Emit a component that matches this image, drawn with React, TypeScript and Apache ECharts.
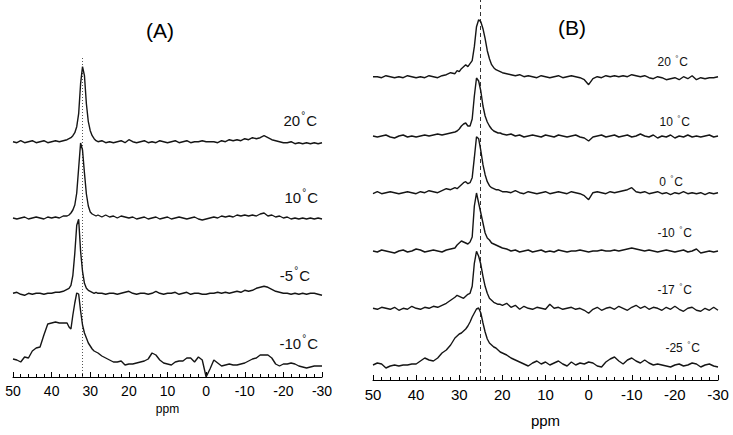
import React, { useEffect, useRef } from 'react';
import * as echarts from 'echarts';

// chemical shift grids (ppm)
const ppmA = [
  50, 49, 48, 47, 46, 45, 44, 43, 42, 41, 40, 39, 38, 37, 36,
  35.5, 35, 34.5, 34, 33.5, 33, 32.5, 32, 31.5, 31, 30.5, 30, 29.5, 29, 28.5, 28,
  27, 26, 25, 24, 23, 22, 21, 20, 19, 18,
  17, 16, 15, 14, 13, 12, 11, 10, 9, 8,
  7, 6, 5, 4, 3, 2, 1, 0, -1, -2,
  -3, -4, -5, -6, -7, -8, -9, -10, -11, -12,
  -13, -14, -15, -16, -17, -18, -19, -20, -21, -22,
  -23, -24, -25, -26, -27, -28, -29, -30,
];
const ppmB = [
  50, 49, 48, 47, 46, 45, 44, 43, 42, 41,
  40, 39, 38, 37, 36, 35, 34, 33, 32, 31,
  30.5, 30, 29.5, 29, 28.5, 28, 27.5, 27, 26.5, 26, 25.5, 25, 24.5, 24, 23.5, 23, 22.5, 22, 21.5, 21, 20.5, 20,
  19, 18, 17, 16, 15, 14, 13, 12, 11, 10,
  9, 8, 7, 6, 5, 4, 3, 2, 1, 0,
  -1, -2, -3, -4, -5, -6, -7, -8, -9, -10,
  -11, -12, -13, -14, -15, -16, -17, -18, -19, -20,
  -21, -22, -23, -24, -25, -26, -27, -28, -29, -30,
];

// Panel A spectra (intensity above own baseline)
const specA20 = [
  0, -1, 1, -1, 0, 1, -1, 0, 1, -1, 0, 1, 0, 1, 2,
  3, 4, 6, 9, 15, 28, 58, 75, 66, 38, 20, 11, 6, 3, 1, 0,
  1, -1, 0, -1, 0, 1, -1, 2, 0, -1,
  0, 1, -1, 0, -1, 1, 0, -1, 0, 1,
  -1, 0, 1, -1, 0, 0, 1, 0, 0, 0,
  -1, 1, 0, 2, 1, 2, 1, 3, 2, 4,
  3, 4, 6, 4, 2, 1, 0, -1, -1, 0,
  -2, -1, -2, -1, -2, -1, -2, -1,
];
const specA10 = [
  0, -1, 0, 1, -1, 0, 1, 0, -1, 1, 0, 1, 0, 2, 2,
  3, 5, 8, 13, 25, 50, 75, 68, 45, 24, 12, 6, 4, 3, 2, 3,
  1, 3, 1, 2, 0, 2, 1, 0, 1, -1,
  0, 1, -1, 0, 1, -1, 0, 1, -1, 0,
  1, 0, -1, 0, 1, -1, -2, -1, 0, 1,
  0, 2, 1, 2, 1, 3, 2, 3, 2, 3,
  2, 4, 5, 2, 3, 1, 2, 0, 1, -1,
  0, -1, 0, -1, 0, -1, 0, -1,
];
const specAm5 = [
  0, 1, -1, -2, 0, -1, 0, 0, -1, 0, 0, 1, 1, 2, 4,
  5, 8, 18, 40, 68, 74, 42, 22, 10, 5, 3, 2, 1, 0, 1, 0,
  0, -1, 0, 0, -1, 0, 1, 2, 0, -1,
  0, 0, -1, 0, 2, 0, -1, 0, 0, 1,
  -1, 0, 1, -1, 0, 0, -1, -1, 0, 0,
  1, 0, 1, 0, 1, 2, 1, 3, 2, 3,
  5, 6, 7, 6, 4, 2, 1, 0, 0, -1,
  0, -1, 0, -1, 0, 0, -1, -2,
];
const specAm10 = [
  4, 3, 1, 6, 5, 12, 15, 16, 28, 39, 40, 41, 40, 40, 40,
  36, 34, 48, 60, 70, 69, 52, 38, 30, 25, 20, 17, 14, 12, 11, 10,
  7, 5, 3, 1, 1, 2, -2, -1, -1, 0,
  1, 2, 4, 10, 8, 3, 0, -1, -2, 1,
  2, 2, 5, 5, 1, 6, 3, -14, -6, 3,
  0, -3, -2, -1, -2, -2, -1, 0, 2, 4,
  5, 8, 8, 8, 5, -1, -3, -1, -1, 0,
  -1, -3, -4, -5, -4, -3, -3, -3,
];

// Panel B spectra
const specB20 = [
  0, 0, -1, 1, 0, -1, 0, -1, 1, 0,
  -1, 0, -1, 1, 0, -1, 1, 2, 4, 3,
  6, 5, 8, 10, 12, 10, 13, 16, 30, 50, 57, 55, 48, 38, 26, 18, 12, 9, 7, 6, 5, 4,
  3, 2, 1, 2, 0, 1, 0, -1, 1, 0,
  -1, 0, 1, -1, 0, 1, 0, -1, -3, -8,
  -2, 0, -1, 1, 0, 1, 0, 1, 0, 2,
  1, 0, 1, -1, -2, 0, -1, -3, -2, -1,
  -3, 0, -2, 1, -3, -1, -2, -1, -1, 0,
];
const specB10 = [
  0, -1, 0, 1, -1, -2, 0, 1, -1, 0,
  -1, 0, 1, 0, 1, 2, 1, 2, 3, 4,
  5, 7, 10, 12, 13, 10, 10, 17, 40, 58, 55, 45, 30, 20, 14, 10, 7, 5, 4, 3, 3, 2,
  1, 2, 0, 1, -1, 0, 1, 0, -1, 1,
  0, -1, 1, 0, -1, 0, 1, -1, -2, -5,
  -1, 0, 1, -1, 0, 1, -1, 0, 1, -1,
  0, 2, 0, -1, 1, -2, 0, -1, 1, -2,
  0, -1, 1, -1, 0, -1, 0, 1, -1, 0,
];
const specB0 = [
  -1, 1, -1, 0, 1, 0, -1, 0, 1, 0,
  -1, 1, 0, 2, 1, 0, 2, 4, 3, 5,
  4, 6, 8, 10, 11, 9, 10, 15, 35, 56, 54, 42, 28, 18, 11, 7, 5, 4, 3, 3, 2, 1,
  1, 0, 2, 0, -1, 1, 0, -1, 0, 1,
  -1, 0, 1, 0, -1, 1, 0, -1, -3, -7,
  0, 1, 0, -1, 1, 0, 1, 2, 3, 5,
  1, 0, 1, -1, 0, 1, -1, 0, -2, 0,
  -1, 1, -1, 0, -1, 0, -2, 0, -1, 0,
];
const specBm10 = [
  0, -1, 1, 0, -1, -2, 0, 1, -1, 0,
  2, 1, -1, 0, 1, 0, -1, 1, 2, 3,
  6, 8, 10, 9, 8, 7, 9, 14, 45, 58, 48, 38, 28, 18, 13, 11, 8, 7, 6, 5, 4, 3,
  2, 0, 1, -1, 0, 1, -1, 0, 1, -1,
  0, -1, 1, 0, -1, 0, 0, 1, 0, -1,
  0, 0, 1, 0, 0, 1, 0, 1, 2, 3,
  2, 1, 0, 1, 0, -1, 0, 1, 0, -1,
  0, 1, -1, 0, 2, -2, -1, 0, -1, 0,
];
const specBm17 = [
  0, -1, 1, 0, -1, 1, -2, 0, -1, 2,
  0, -1, 1, 0, 2, 1, 3, 5, 8, 11,
  13, 12, 11, 10, 12, 14, 15, 22, 45, 57, 52, 44, 32, 22, 15, 10, 8, 6, 5, 4, 4, 3,
  5, 1, 3, -1, 2, 0, -1, 1, 0, -1,
  4, 0, 1, -1, 0, 1, -1, 0, -2, -5,
  -1, 1, -2, 0, 1, -1, 2, 0, -2, 1,
  3, 0, 2, -1, 1, 0, -2, 1, -1, 2,
  -1, -3, 0, 1, -2, -3, 0, -2, 1, -2,
];
const specBm25 = [
  0, 2, 1, -3, -1, 0, -1, 0, 0, 1,
  1, 4, 7, 5, 4, 7, 12, 15, 20, 27,
  29, 31, 32, 34, 36, 39, 43, 48, 52, 56, 57, 52, 42, 33, 26, 22, 20, 18, 17, 15, 13, 12,
  10, 7, 5, 3, 1, -1, 2, 4, 1, 3,
  0, 2, 4, 1, -1, 3, 0, 2, 1, 3,
  2, -1, -2, 3, 6, 8, 4, 1, 5, 7,
  4, 2, 5, 2, 0, 1, 0, -1, -2, 0,
  1, -1, 0, 2, 1, -2, 0, 1, -1, -2,
];

// stacking offsets (baseline heights above the ppm axis)
const offsetsA = [235.3, 159, 83.7, 14];
const offsetsB = [303.3, 244, 187.3, 129, 71.7, 15];
const tempsA = ['20', '10', '-5', '-10'];
const tempsB = ['20', '10', '0', '-10', '-17', '-25'];
const refA = 32;
const refB = 25.2;
const xTicks = { min: -30, max: 50, interval: 10 };

const FONT = '"Liberation Sans", Arial, Helvetica, sans-serif';

export default function App() {
  const ref = useRef<HTMLDivElement>(null);
  useEffect(() => {
    const chart = echarts.init(ref.current!, null, { renderer: 'svg' });
    const specsA = [specA20, specA10, specAm5, specAm10];
    const specsB = [specB20, specB10, specB0, specBm10, specBm17, specBm25];

    const lineStyle = { color: '#151515', width: 1.4 };
    const mkSeries = (ppm: number[], specs: number[][], offs: number[], idx: number, refVal: number, dash: any, dashColor: string) =>
      specs.map((vals, i) => ({
        type: 'line',
        xAxisIndex: idx,
        yAxisIndex: idx,
        showSymbol: false,
        silent: true,
        lineStyle,
        data: ppm.map((p, k) => [p, offs[i] + vals[k]]),
        z: 3,
        markLine: i === 0 ? {
          silent: true,
          symbol: ['none', 'none'],
          label: { show: false },
          lineStyle: { type: dash, color: dashColor, width: 1 },
          data: [{ xAxis: refVal }],
          z: 1,
        } : undefined,
      }));

    const xAxisBase = (idx: number, fontSize: number, nameGap: number, nameSize: number) => ({
      type: 'value',
      gridIndex: idx,
      inverse: true,
      min: xTicks.min,
      max: xTicks.max,
      interval: xTicks.interval,
      axisLine: { show: true, lineStyle: { color: '#000', width: 1 } },
      axisTick: { show: true, inside: true, length: 5, lineStyle: { color: '#000', width: 1 } },
      minorTick: { show: true, splitNumber: 5, length: 3, lineStyle: { color: '#000', width: 1 } },
      splitLine: { show: false },
      minorSplitLine: { show: false },
      axisLabel: { color: '#000', fontSize, margin: 7, fontFamily: FONT },
      name: 'ppm',
      nameLocation: 'middle',
      nameGap,
      nameTextStyle: { color: '#000', fontSize: nameSize, fontFamily: FONT },
    });

    const tempLabel = (t: string, x: number, y: number, size: number, space: string) => ({
      type: 'text',
      x,
      y,
      style: {
        text: `{n|${t}${space}}{d|°}{n|C}`,
        align: 'right',
        verticalAlign: 'middle',
        fill: '#111',
        rich: {
          n: { fontSize: size, fontFamily: FONT, fill: '#111', lineHeight: size + 4 },
          d: { fontSize: Math.round(size * 0.65), fontFamily: FONT, fill: '#111', verticalAlign: 'top', padding: [0, 1, 0, 1] },
        },
      },
    });

    const labPosA = [[317, 120], [318, 197], [310, 275], [318, 343]];
    const labPosB = [[688, 62], [690, 122], [683, 182], [692, 233], [692, 290], [700, 348]];

    chart.setOption({
      animation: false,
      backgroundColor: '#fff',
      grid: [
        { left: 13, top: 57, width: 309, height: 320 },
        { left: 373, top: 0, width: 345, height: 380 },
      ],
      xAxis: [xAxisBase(0, 14, 26, 12), xAxisBase(1, 15, 33, 15)],
      yAxis: [
        { type: 'value', gridIndex: 0, min: 0, max: 320, show: false },
        { type: 'value', gridIndex: 1, min: 0, max: 380, show: false },
      ],
      series: [
        ...mkSeries(ppmA, specsA, offsetsA, 0, refA, [1, 2], '#555'),
        ...mkSeries(ppmB, specsB, offsetsB, 1, refB, [4, 3], '#333'),
      ],
      graphic: [
        { type: 'text', x: 160, y: 30, style: { text: '(A)', fontSize: 21, fontFamily: FONT, fill: '#000', align: 'center', verticalAlign: 'middle' } },
        { type: 'text', x: 572, y: 27, style: { text: '(B)', fontSize: 21, fontFamily: FONT, fill: '#000', align: 'center', verticalAlign: 'middle' } },
        ...tempsA.map((t, i) => tempLabel(t, labPosA[i][0], labPosA[i][1], 15, '')),
        ...tempsB.map((t, i) => tempLabel(t, labPosB[i][0], labPosB[i][1], 12, ' ')),
      ],
    });
    return () => chart.dispose();
  }, []);
  return (
    <div
      ref={ref}
      style={{ position: 'fixed', left: 0, top: 0, width: 733, height: 435, background: '#fff' }}
    />
  );
}
